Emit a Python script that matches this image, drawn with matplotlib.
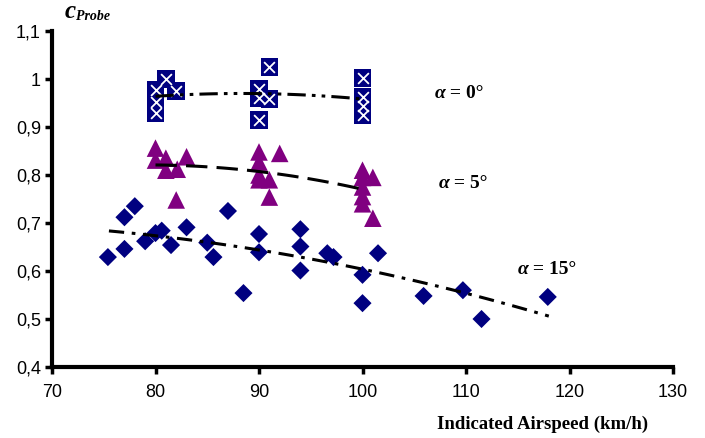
import matplotlib

matplotlib.use("Agg")
import matplotlib.pyplot as plt
import numpy as np
from matplotlib.ticker import FuncFormatter

# alpha = 0 deg (squares with cross)
x_a0 = [80, 80, 80, 81, 82, 90, 90, 90, 91, 91, 100, 100, 100, 100]
y_a0 = [0.977, 0.952, 0.929, 1.0, 0.975, 0.98, 0.96, 0.915, 0.958, 1.025,
        1.002, 0.962, 0.944, 0.925]

# alpha = 5 deg (triangles)
x_a5 = [80, 80, 81, 81, 82.1, 83, 82, 90, 90, 92, 90, 91, 91, 90,
        100, 100, 100, 100, 100, 101, 101]
y_a5 = [0.856, 0.831, 0.835, 0.81, 0.812, 0.838, 0.748, 0.848, 0.827, 0.845,
        0.79, 0.79, 0.754, 0.80, 0.81, 0.795, 0.775, 0.755, 0.74, 0.795, 0.71]

# alpha = 15 deg (diamonds)
x_a15 = [75.4, 77.0, 77.0, 78.0, 79.0, 80.0, 80.6, 81.5, 83.0, 85.0, 85.6,
         87.0, 88.5, 90.0, 90.0, 94.0, 94.0, 94.0, 96.6, 97.2, 100.0, 100.0,
         101.5, 105.9, 109.7, 111.5, 117.9]
y_a15 = [0.629, 0.646, 0.712, 0.735, 0.662, 0.679, 0.684, 0.654, 0.691, 0.659,
         0.629, 0.725, 0.554, 0.677, 0.639, 0.687, 0.651, 0.601, 0.637, 0.629,
         0.592, 0.533, 0.637, 0.548, 0.560, 0.500, 0.546]

NAVY = "#000080"
PURPLE = "#800080"


def trend(ax, xs, ys, x0, x1, dashes):
    coef = np.polyfit(xs, ys, 2)
    xx = np.linspace(x0, x1, 100)
    ax.plot(xx, np.polyval(coef, xx), color="black", lw=2.2,
            dashes=dashes, zorder=4)


fig = plt.figure(figsize=(7.05, 4.38), dpi=100)
ax = fig.add_axes([52 / 705, 71 / 438, 621 / 705, 336 / 438])

ax.scatter(x_a15, y_a15, marker="D", s=85, color=NAVY, edgecolors="none", zorder=3)
ax.scatter(x_a5, y_a5, marker="^", s=160, color=PURPLE, edgecolors="none", zorder=3)
ax.scatter(x_a0, y_a0, marker="s", s=160, color=NAVY, edgecolors="none", zorder=3)
ax.scatter(x_a0, y_a0, marker="x", s=60, color="white", linewidths=1.3, zorder=3.5)

trend(ax, x_a0, y_a0, 80, 100, (6, 2, 1.2, 2, 1.2, 2))
trend(ax, x_a5, y_a5, 80, 100, (7, 3))
trend(ax, x_a15, y_a15, 75.5, 118, (5, 2.5, 1.2, 2.5))

ax.set_xlim(70, 130)
ax.set_ylim(0.4, 1.1)
ax.set_xticks(np.arange(70, 131, 10))
ax.set_yticks(np.arange(0.4, 1.101, 0.1))
ax.yaxis.set_major_formatter(FuncFormatter(lambda v, p: f"{v:.1f}".replace(".0", "").replace(".", ",")))
ax.tick_params(labelsize=13, width=2.5, length=5, direction="out")
for lab in ax.get_xticklabels() + ax.get_yticklabels():
    lab.set_fontfamily("Liberation Sans")
ax.tick_params(axis="x", pad=7)
ax.tick_params(axis="y", pad=3)

for side in ("top", "right"):
    ax.spines[side].set_visible(False)
for side in ("left", "bottom"):
    ax.spines[side].set_linewidth(3)

serif = "Liberation Serif"
fig.text(76 / 705, 1 - 12 / 438, "c", fontsize=18, fontfamily=serif,
         fontstyle="italic", fontweight="bold", ha="right", va="center")
fig.text(76 / 705, 1 - 16 / 438, "Probe", fontsize=10, fontfamily=serif,
         fontstyle="italic", fontweight="bold", ha="left", va="center")
fig.text(543 / 705, 1 - 424 / 438, "Indicated Airspeed (km/h)", fontsize=13.5,
         fontfamily=serif, fontweight="bold", ha="center", va="center")

for tx, ty, deg in [(445, 94, "0"), (449, 184, "5"), (528, 270, "15")]:
    fig.text(tx / 705, 1 - ty / 438, "α", fontsize=14, fontfamily=serif,
             fontstyle="italic", fontweight="bold", ha="right", va="center")
    fig.text(tx / 705, 1 - ty / 438, f" = {deg}°", fontsize=14, fontfamily=serif,
             fontweight="bold", ha="left", va="center")

fig.savefig("out.png", dpi=100)
